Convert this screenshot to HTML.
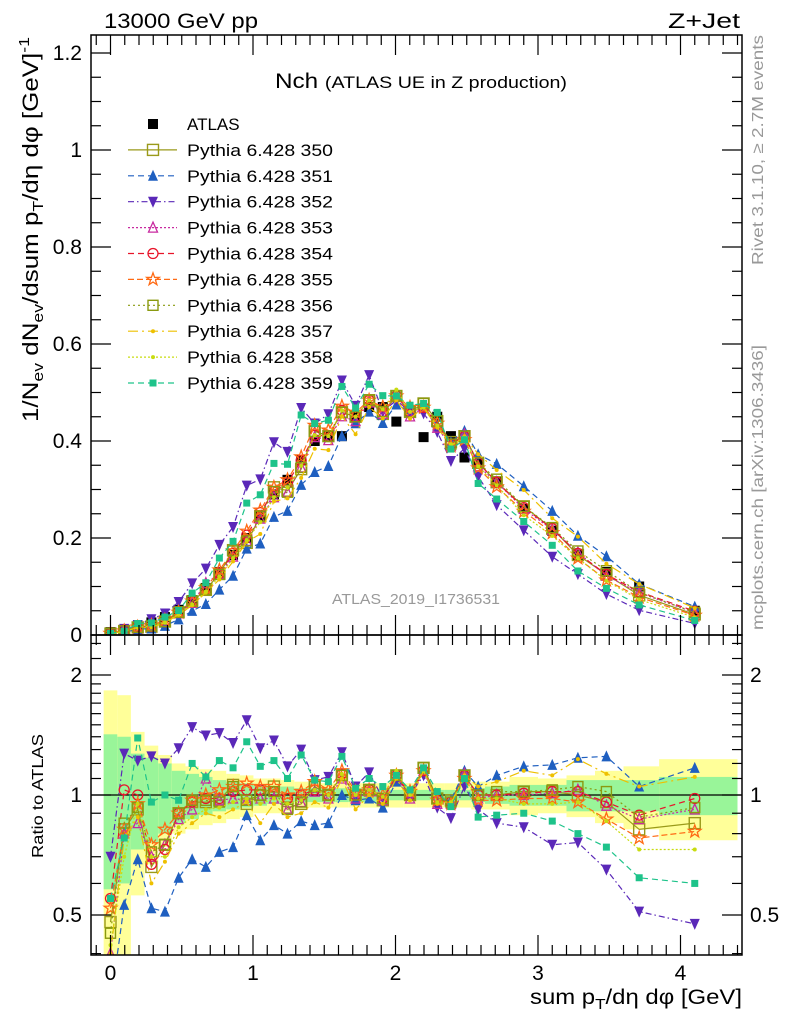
<!DOCTYPE html>
<html><head><meta charset="utf-8">
<style>
html,body{margin:0;padding:0;background:#fff;}
svg{display:block;font-family:"Liberation Sans",Arial,sans-serif;}
</style></head>
<body>
<svg id="chart" width="786" height="1024" viewBox="0 0 786 1024" xmlns="http://www.w3.org/2000/svg">
<defs>
<clipPath id="clipMain"><rect x="91" y="35" width="651" height="600"/></clipPath>
<clipPath id="clipRatio"><rect x="91" y="635" width="651" height="320"/></clipPath>
</defs>
<g id="bands" clip-path="url(#clipRatio)"></g>
<g id="series"></g>
<g id="axes"></g>
<text x="104" y="28" font-size="21" textLength="154" lengthAdjust="spacingAndGlyphs">13000 GeV pp</text>
<text x="668" y="28" font-size="21" textLength="72" lengthAdjust="spacingAndGlyphs">Z+Jet</text>
<text x="275" y="88" font-size="21" textLength="292" lengthAdjust="spacingAndGlyphs">Nch <tspan font-size="17">(ATLAS UE in Z production)</tspan></text>
<text x="332" y="604" font-size="15" fill="#999" textLength="168" lengthAdjust="spacingAndGlyphs">ATLAS_2019_I1736531</text>
<text transform="translate(38,422) rotate(-90)" font-size="22" textLength="385" lengthAdjust="spacingAndGlyphs">1/N<tspan font-size="15" dy="5">ev</tspan><tspan dy="-5"> dN</tspan><tspan font-size="15" dy="5">ev</tspan><tspan dy="-5">/dsum p</tspan><tspan font-size="15" dy="5">T</tspan><tspan dy="-5">/dη dφ  [GeV]</tspan><tspan font-size="15" dy="-9">-1</tspan></text>
<text transform="translate(43,858) rotate(-90)" font-size="16" textLength="124" lengthAdjust="spacingAndGlyphs">Ratio to ATLAS</text>
<text x="530" y="1004" font-size="21" textLength="212" lengthAdjust="spacingAndGlyphs">sum p<tspan font-size="15" dy="5">T</tspan><tspan dy="-5">/dη dφ [GeV]</tspan></text>
<text transform="translate(763,265) rotate(-90)" font-size="16" fill="#999" textLength="230" lengthAdjust="spacingAndGlyphs">Rivet 3.1.10, ≥ 2.7M events</text>
<text transform="translate(763,630) rotate(-90)" font-size="16" fill="#999" textLength="285" lengthAdjust="spacingAndGlyphs">mcplots.cern.ch [arXiv:1306.3436]</text>
<g id="legend"></g>
</svg>
<script>
const xVals = [0,0.096,0.191,0.287,0.382,0.478,0.573,0.669,0.764,0.86,0.956,1.051,1.147,1.242,1.338,1.433,1.529,1.624,1.72,1.815,1.911,2.006,2.102,2.197,2.293,2.389,2.484,2.58,2.71,2.9,3.1,3.28,3.48,3.71,4.1];
const binEdges = [-0.048,0.048,0.143,0.239,0.335,0.43,0.526,0.621,0.717,0.812,0.908,1.003,1.099,1.195,1.29,1.386,1.481,1.577,1.672,1.768,1.863,1.959,2.054,2.15,2.245,2.341,2.437,2.532,2.628,2.8,3.0,3.2,3.4,3.6,3.85,4.4];
const atlasVals = [0.006,0.01,0.017,0.026,0.037,0.052,0.072,0.097,0.13,0.165,0.2,0.245,0.29,0.32,0.36,0.40,0.41,0.41,0.45,0.47,0.47,0.44,0.46,0.408,0.45,0.41,0.366,0.355,0.315,0.26,0.215,0.165,0.13,0.10,0.05];
const totalErr = [0.83,0.78,0.44,0.33,0.26,0.2,0.18,0.16,0.15,0.13,0.12,0.1,0.1,0.09,0.08,0.07,0.07,0.07,0.07,0.07,0.07,0.07,0.07,0.07,0.07,0.07,0.07,0.08,0.08,0.11,0.1,0.12,0.15,0.18,0.23];
const statErr = [0.42,0.4,0.27,0.24,0.2,0.15,0.13,0.11,0.09,0.08,0.07,0.06,0.05,0.05,0.04,0.04,0.04,0.04,0.04,0.04,0.03,0.03,0.03,0.03,0.03,0.03,0.03,0.04,0.05,0.06,0.06,0.09,0.09,0.09,0.11];
const ratio350 = [0.48,0.82,0.92,0.66,0.75,0.9,0.96,0.96,0.97,1.06,0.95,1.0,1.05,0.93,0.95,1.05,1.0,1.12,1.0,1.03,0.97,1.12,1.0,1.17,0.98,0.97,1.12,1.0,1.0,1.02,1.02,1.0,0.96,0.82,0.85];
const ratio351 = [0.3,0.53,0.69,0.52,0.51,0.62,0.69,0.66,0.72,0.74,0.89,0.77,0.84,0.80,0.86,0.84,0.85,1.0,0.97,0.98,0.93,1.08,1.0,1.15,0.96,0.97,1.15,1.05,1.12,1.18,1.19,1.24,1.25,1.05,1.17];
const ratio352 = [0.7,1.27,1.22,1.25,1.2,1.31,1.48,1.41,1.43,1.35,1.54,1.31,1.37,1.18,1.30,1.09,1.11,1.28,1.05,1.14,0.98,1.1,1.0,1.12,0.93,0.875,1.05,0.92,0.85,0.83,0.75,0.76,0.65,0.51,0.475];
const ratio353 = [0.4,0.8,0.85,0.7,0.75,0.87,0.92,1.1,0.97,0.98,0.97,0.98,0.98,0.92,0.96,1.02,0.98,1.1,0.98,1.02,0.97,1.12,0.98,1.15,0.95,0.95,1.13,0.98,1.0,1.0,1.01,1.03,0.94,0.87,0.92];
const ratio354 = [0.55,1.03,1.0,0.67,0.73,0.9,0.96,0.98,0.98,1.02,1.03,1.03,1.02,0.98,1.0,1.03,1.0,1.13,1.0,1.03,0.98,1.12,1.0,1.15,0.97,0.96,1.12,1.0,1.0,1.01,1.02,1.02,0.96,0.89,0.98];
const ratio355 = [0.52,0.82,0.95,0.75,0.82,0.9,0.97,1.0,1.03,1.05,1.07,1.05,1.05,1.0,1.02,1.08,1.03,1.15,1.02,1.03,1.0,1.12,1.02,1.15,0.97,0.95,1.1,0.97,0.97,0.98,0.98,0.96,0.87,0.78,0.81];
const ratio356 = [0.45,0.85,0.93,0.72,0.75,0.9,0.97,0.97,0.96,1.05,0.97,1.0,1.02,0.92,0.96,1.05,1.0,1.12,1.0,1.03,0.98,1.12,1.0,1.17,0.98,0.96,1.12,1.0,1.02,1.02,1.03,1.05,1.02,0.88,0.93];
const ratio357 = [0.4,0.78,0.88,0.6,0.68,0.8,0.85,0.9,0.88,0.92,0.96,0.85,0.95,0.88,0.9,0.96,0.93,1.1,0.92,1.0,0.95,1.1,0.97,1.15,0.95,0.95,1.12,1.05,1.08,1.15,1.12,1.23,1.13,1.05,1.11];
const ratio358 = [0.42,0.7,0.95,0.7,0.7,0.83,0.88,0.92,0.93,0.96,0.98,0.95,0.98,0.95,0.97,1.03,1.0,1.13,1.0,1.03,0.99,1.15,1.0,1.15,0.96,0.96,1.1,0.98,0.98,0.95,0.95,0.96,0.86,0.73,0.73];
const ratio359 = [0.55,0.78,1.39,0.96,1.0,0.97,1.2,1.11,1.22,1.17,1.36,1.18,1.22,1.1,1.26,1.09,1.08,1.25,1.04,1.1,1.05,1.12,1.03,1.17,1.02,0.935,1.1,0.88,0.89,0.90,0.86,0.80,0.74,0.62,0.60];
const seriesNames = ["Pythia 6.428 350","Pythia 6.428 351","Pythia 6.428 352","Pythia 6.428 353","Pythia 6.428 354","Pythia 6.428 355","Pythia 6.428 356","Pythia 6.428 357","Pythia 6.428 358","Pythia 6.428 359"];
const mainTicks = [0,0.2,0.4,0.6,0.8,1,1.2];
const mainTickLabels = ["0","0.2","0.4","0.6","0.8","1","1.2"];
const ratioTicks = [0.5,1,2];
const ratioTickLabels = ["0.5","1","2"];
const xTicks = [0,1,2,3,4];
const xTickLabels = ["0","1","2","3","4"];

const NS="http://www.w3.org/2000/svg";
const L=91,R=742,T=35,MB=635,B=955;
const sx = v => 110.5 + 142.5*v;
const sy = v => 635 - 485*v;
const sr = r => 795 - 398.6*Math.log10(r);
function mk(tag, attrs, parent){const e=document.createElementNS(NS,tag);for(const k in attrs)e.setAttribute(k,attrs[k]);parent.appendChild(e);return e;}
const bandsG=document.getElementById('bands'), serG=document.getElementById('series'), axG=document.getElementById('axes'), legG=document.getElementById('legend');

for(let i=0;i<xVals.length;i++){
  const x0=sx(binEdges[i]), x1=sx(binEdges[i+1]);
  const y1=mk('rect',{x:x0,y:sr(1+totalErr[i]),width:x1-x0,height:sr(Math.max(0.3,1-totalErr[i]))-sr(1+totalErr[i]),fill:'#ffff99'},bandsG);
  
  
  const g1=mk('rect',{x:x0,y:sr(1+statErr[i]),width:x1-x0,height:sr(1-statErr[i])-sr(1+statErr[i]),fill:'#99f599'},bandsG);
  
  
}
const one=mk('line',{x1:L,x2:R,y1:sr(1),y2:sr(1),stroke:'#000','stroke-width':1.3},bandsG);



function marker(g,type,cx,cy,color,s){
  let e;
  if(type==='fsq'){e=mk('rect',{x:cx-s/2,y:cy-s/2,width:s,height:s,fill:color},g);}
  else if(type==='osq'){e=mk('rect',{x:cx-s/2,y:cy-s/2,width:s,height:s,fill:'none',stroke:color,'stroke-width':1.4},g);}
  else if(type==='up'){e=mk('polygon',{points:`${cx},${cy-s/2-1} ${cx-s/2},${cy+s/2} ${cx+s/2},${cy+s/2}`,fill:color},g);}
  else if(type==='down'){e=mk('polygon',{points:`${cx},${cy+s/2+1} ${cx-s/2},${cy-s/2} ${cx+s/2},${cy-s/2}`,fill:color},g);}
  else if(type==='oup'){e=mk('polygon',{points:`${cx},${cy-s/2-1} ${cx-s/2},${cy+s/2} ${cx+s/2},${cy+s/2}`,fill:'none',stroke:color,'stroke-width':1.3},g);}
  else if(type==='circ'){e=mk('circle',{cx:cx,cy:cy,r:s/2,fill:'none',stroke:color,'stroke-width':1.3},g);}
  else if(type==='star'){let p=[];for(let k=0;k<10;k++){const a=-Math.PI/2+k*Math.PI/5,rr=k%2?s*0.22:s*0.55;p.push((cx+rr*Math.cos(a)).toFixed(1)+','+(cy+rr*Math.sin(a)).toFixed(1));}e=mk('polygon',{points:p.join(' '),fill:'none',stroke:color,'stroke-width':1.3},g);}
  else if(type==='dot'){e=mk('circle',{cx:cx,cy:cy,r:s/2,fill:color},g);}
  
  
}

const styles=[
 {r:ratio350,c:'#9a9a1a',d:'',m:'osq',s:11},
 {r:ratio351,c:'#1f5fc0',d:'6,4',m:'up',s:10},
 {r:ratio352,c:'#5a28b8',d:'6,3,1.5,3',m:'down',s:10},
 {r:ratio353,c:'#c82aa0',d:'2,2',m:'oup',s:9},
 {r:ratio354,c:'#e8142a',d:'6,4',m:'circ',s:10},
 {r:ratio355,c:'#ff6a14',d:'6,3',m:'star',s:12},
 {r:ratio356,c:'#8a9a10',d:'2,3',m:'osq',s:10},
 {r:ratio357,c:'#eec000',d:'10,4,2,4',m:'dot',s:4},
 {r:ratio358,c:'#c8dc10',d:'2,2',m:'dot',s:4},
 {r:ratio359,c:'#1ec38a',d:'6,4',m:'fsq',s:7}
];

const atlasG=mk('g',{'clip-path':'url(#clipMain)'},serG);


atlasVals.forEach((v,i)=>marker(atlasG,'fsq',sx(xVals[i]),sy(v),'#000',10));

styles.forEach((st,si)=>{
  const gm=mk('g',{'clip-path':'url(#clipMain)'},serG);
  
  
  const gr=mk('g',{'clip-path':'url(#clipRatio)'},serG);
  
  
  const pm=xVals.map((x,i)=>sx(x).toFixed(1)+','+sy(st.r[i]*atlasVals[i]).toFixed(1)).join(' ');
  const pr=xVals.map((x,i)=>sx(x).toFixed(1)+','+sr(st.r[i]).toFixed(1)).join(' ');
  const a={fill:'none',stroke:st.c,'stroke-width':1.2};
  if(st.d)a['stroke-dasharray']=st.d;
  const l1=mk('polyline',Object.assign({points:pm},a),gm);
  
  
  const l2=mk('polyline',Object.assign({points:pr},a),gr);
  
  
  xVals.forEach((x,i)=>{
    marker(gm,st.m,sx(x),sy(st.r[i]*atlasVals[i]),st.c,st.s);
    marker(gr,st.m,sx(x),sr(st.r[i]),st.c,st.s);
  });
});

[[T,MB],[MB,B]].forEach(([t,b],pi)=>{
  const f=mk('rect',{x:L,y:t,width:R-L,height:b-t,fill:'none',stroke:'#000','stroke-width':1.5},axG);
  
  
  for(let k=-1;k<=44;k++){
    const v=k/10,x=sx(v);
    if(x<L+1||x>R-1)continue;
    const maj=(k%10===0),len=maj?20:10;
    mk('line',{x1:x,x2:x,y1:b,y2:b-len,stroke:'#000','stroke-width':1.2},axG);
    mk('line',{x1:x,x2:x,y1:t,y2:t+len,stroke:'#000','stroke-width':1.2},axG);
  }
});
for(let k=0;k<=24;k++){
  const v=k*0.05,y=sy(v);if(y<T)continue;
  const maj=(k%4===0),len=maj?20:10;
  mk('line',{x1:L,x2:L+len,y1:y,y2:y,stroke:'#000','stroke-width':1.2},axG);
  mk('line',{x1:R,x2:R-len,y1:y,y2:y,stroke:'#000','stroke-width':1.2},axG);
}
mainTicks.forEach((v,i)=>{
  const t=mk('text',{x:82,y:sy(v)+7,'font-size':21,'text-anchor':'end'},axG);
  t.textContent=mainTickLabels[i];
  
  
});
const minorR=[0.4,0.6,0.7,0.8,0.9,1.1,1.2,1.3,1.4,1.5,1.6,1.7,1.8,1.9,2.2,2.4];
minorR.forEach(v=>{const y=sr(v);if(y<MB||y>B)return;
  mk('line',{x1:L,x2:L+10,y1:y,y2:y,stroke:'#000','stroke-width':1.2},axG);
  mk('line',{x1:R,x2:R-10,y1:y,y2:y,stroke:'#000','stroke-width':1.2},axG);});
ratioTicks.forEach((v,i)=>{const y=sr(v);
  mk('line',{x1:L,x2:L+20,y1:y,y2:y,stroke:'#000','stroke-width':1.2},axG);
  mk('line',{x1:R,x2:R-20,y1:y,y2:y,stroke:'#000','stroke-width':1.2},axG);
  const t=mk('text',{x:82,y:y+7,'font-size':21,'text-anchor':'end'},axG);
  t.textContent=ratioTickLabels[i];
  
  
  const t2=mk('text',{x:750,y:y+7,'font-size':21},axG);
  t2.textContent=ratioTickLabels[i];
  
  
});
xTicks.forEach((v,i)=>{
  const t=mk('text',{x:sx(v),y:980,'font-size':21,'text-anchor':'middle'},axG);
  t.textContent=xTickLabels[i];
  
  
});

const legY0=124, legStep=25.9;
const le=mk('g',{},legG);


marker(le,'fsq',153,legY0,'#000',10);
const lt=mk('text',{x:187,y:legY0+6,'font-size':17},le);lt.textContent='ATLAS';
styles.forEach((st,si)=>{
  const y=legY0+legStep*(si+1);
  const g=mk('g',{},legG);
  
  
  const a={x1:128,x2:177,y1:y,y2:y,stroke:st.c,'stroke-width':1.2};
  if(st.d)a['stroke-dasharray']=st.d;
  mk('line',a,g);
  marker(g,st.m,153,y,st.c,st.s);
  const t=mk('text',{x:187,y:y+6,'font-size':17,textLength:146,lengthAdjust:'spacingAndGlyphs'},g);t.textContent=seriesNames[si];
});
</script>
</body></html>
